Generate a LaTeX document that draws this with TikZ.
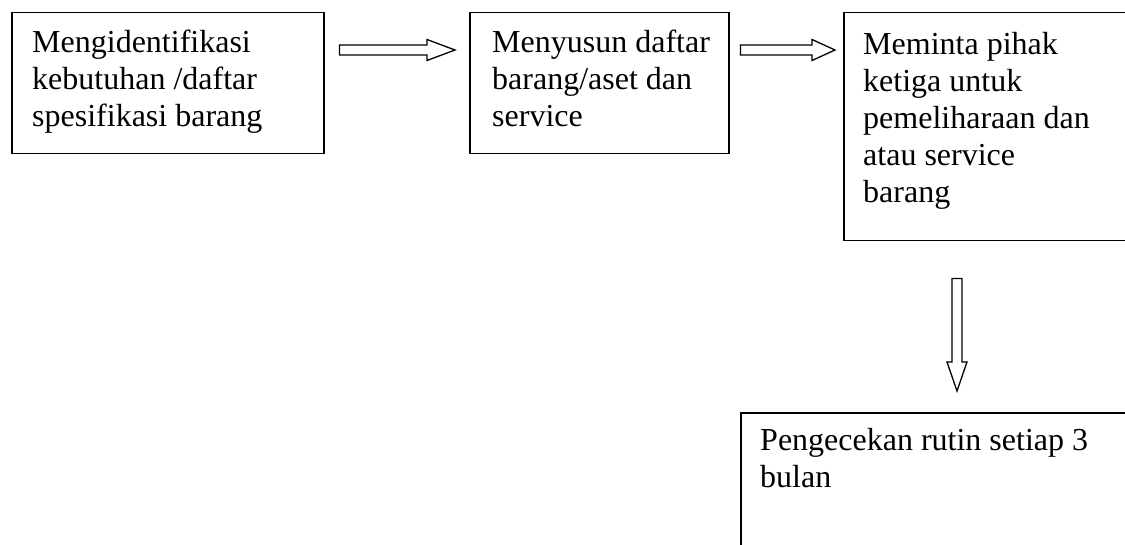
\documentclass[tikz,border=0pt]{standalone}
\usepackage{fontspec}
\setmainfont{Liberation Serif}
\usetikzlibrary{calc}

% multi-line text block, baseline at the first line
\newcommand\boxtext[1]{\parbox[t]{400pt}{\fontsize{32}{37}\selectfont\raggedright #1}}

% hollow block arrow pointing right: start, tip, head length
\newcommand\harrow[3]{%
  \draw[blockarrow] ($(#1)+(0,-5)$) -- ($(#2)+(-#3,-5)$) -- ($(#2)+(-#3,-10.5)$)
    -- (#2) -- ($(#2)+(-#3,10.5)$) -- ($(#2)+(-#3,5)$) -- ($(#1)+(0,5)$) -- cycle;}
% hollow block arrow pointing down: start, tip, head length
\newcommand\varrow[3]{%
  \draw[blockarrow] ($(#1)+(-5,0)$) -- ($(#2)+(-5,-#3)$) -- ($(#2)+(-10,-#3)$)
    -- (#2) -- ($(#2)+(10,-#3)$) -- ($(#2)+(5,-#3)$) -- ($(#1)+(5,0)$) -- cycle;}

\tikzset{
  stepbox/.style={draw=black, line width=1.5pt, anchor=north west, inner sep=0pt},
  txt/.style={anchor=base west, inner sep=0pt},
  blockarrow/.style={draw=black, line width=1.3pt, fill=white, line join=miter},
}

\begin{document}
\begin{tikzpicture}[x=1pt,y=-1pt]
  \fill[white] (0,0) rectangle (1125,545);
  \clip (0,0) rectangle (1125,545);

  % process boxes
  \node[stepbox, minimum width=312pt, minimum height=141pt] (b1) at (11,12) {};
  \node[stepbox, minimum width=259pt, minimum height=141pt] (b2) at (469,12) {};
  \node[stepbox, minimum width=300pt, minimum height=228pt] (b3) at (843,12) {};
  \node[stepbox, minimum width=400pt, minimum height=150pt] (b4) at (740,412) {};

  % box texts
  \node[txt] (t1) at ($(b1.north west)+(21,41)$)
    {\boxtext{Mengidentifikasi\\kebutuhan /daftar\\spesifikasi barang}};
  \node[txt] (t2) at ($(b2.north west)+(23,41)$)
    {\boxtext{Menyusun daftar\\barang/aset dan\\service}};
  \node[txt] (t3) at ($(b3.north west)+(20,43)$)
    {\fontsize{32}{36.3}\selectfont\boxtext{Meminta pihak\\ketiga untuk\\pemeliharaan dan\\atau service\\barang}};
  \node[txt] (t4) at ($(b4.north west)+(20,38)$)
    {\boxtext{Pengecekan rutin setiap 3\\bulan}};

  % connectors
  \coordinate (a1s) at ($(b1.north east)+(15,38)$);
  \coordinate (a1e) at ($(b2.north west)+(-14,38)$);
  \coordinate (a2s) at ($(b2.north east)+(11,38)$);
  \coordinate (a2e) at ($(b3.north west)+(-8,38)$);
  \coordinate (a3s) at ($(b3.south west)+(114,37)$);
  \coordinate (a3e) at ($(b4.north west)+(217,-21)$);
  \harrow{a1s}{a1e}{28}
  \harrow{a2s}{a2e}{23}
  \varrow{a3s}{a3e}{29}
\end{tikzpicture}
\end{document}
